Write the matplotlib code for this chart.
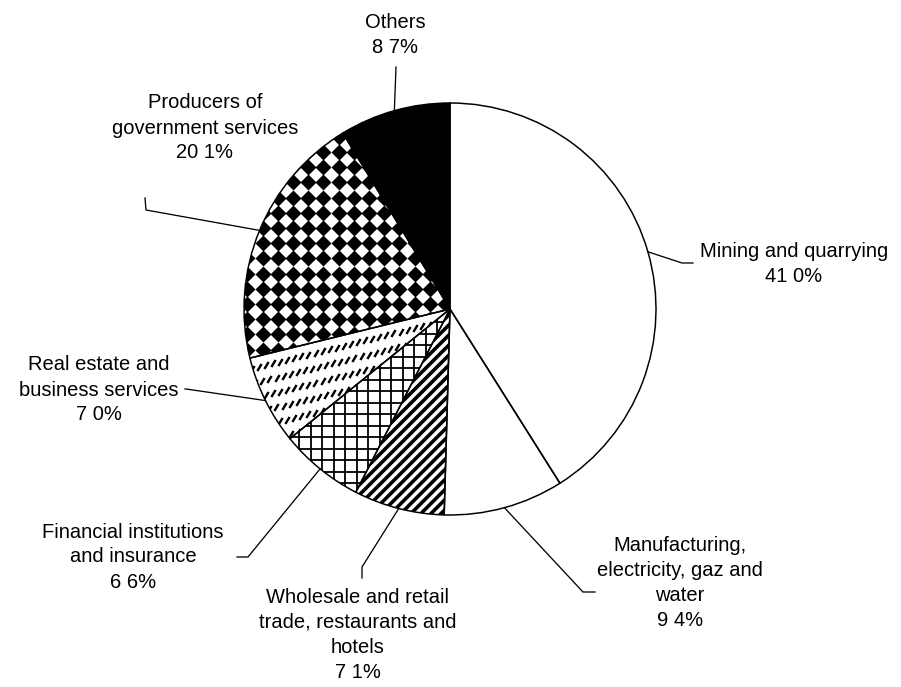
import numpy as np
import matplotlib
matplotlib.use("Agg")
import matplotlib.pyplot as plt
from matplotlib.collections import LineCollection

plt.rcParams['font.family'] = ['Liberation Sans', 'DejaVu Sans']

# Data
sectors = ["Mining and quarrying",
           "Manufacturing,\nelectricity, gaz and\nwater",
           "Wholesale and retail\ntrade, restaurants and\nhotels",
           "Financial institutions\nand insurance",
           "Real estate and\nbusiness services",
           "Producers of\ngovernment services",
           "Others"]
shares = [41.0, 9.4, 7.1, 6.6, 7.0, 20.1, 8.7]

# Layout (pixel coords, y down): label centre, leader elbow, leader end
label_xy = [(794, 264), (680, 583), (358, 635), (133, 557), (99, 390), (205, 128), (395, 35)]
elbow_xy = [(682, 263), (583, 592), (362, 567), (248, 557), (186, 389), (146, 210), (396, 67)]
end_xy = [(693, 263), (595, 592), (362, 578), (237, 557), (185, 389), (145, 198), (396, 67)]

W, H = 901, 687
CX, CY, R = 450, 309, 206
PX = 0.72  # points per pixel at dpi 100

fig = plt.figure(figsize=(W / 100, H / 100), dpi=100)
ax = fig.add_axes([0, 0, 1, 1])

wedges, _ = ax.pie(shares, center=(CX, CY), radius=R, startangle=-90,
                   counterclock=True, colors=["white"] * len(shares),
                   wedgeprops=dict(edgecolor="black", linewidth=1.5 * PX))
ax.set_xlim(0, W)
ax.set_ylim(H, 0)
ax.set_aspect("equal")
ax.axis("off")


def parallel_lines(wedge, angle, spacing, lw):
    # family of parallel lines clipped to a wedge
    a = np.deg2rad(angle)
    d = np.array([np.cos(a), np.sin(a)])
    n = np.array([-d[1], d[0]])
    offs = np.arange(-R * 1.5, R * 1.5, spacing)
    segs = [[(CX + o * n[0] - 2 * R * d[0], CY + o * n[1] - 2 * R * d[1]),
             (CX + o * n[0] + 2 * R * d[0], CY + o * n[1] + 2 * R * d[1])] for o in offs]
    lc = LineCollection(segs, colors="black", linewidths=lw * PX, zorder=2)
    ax.add_collection(lc)
    lc.set_clip_path(wedge)


def marker_grid(wedge, dx, dy, tilt, marker, ms, **kw):
    t = np.deg2rad(tilt)
    u, v = np.meshgrid(np.arange(-R * 1.5, R * 1.5, dx), np.arange(-R * 1.5, R * 1.5, dy))
    x = CX + u * np.cos(t) - v * np.sin(t)
    y = CY + u * np.sin(t) + v * np.cos(t)
    ln, = ax.plot(x.ravel(), y.ravel(), linestyle="none", marker=marker,
                  markersize=ms, zorder=2, **kw)
    ln.set_clip_path(wedge)


# Wholesale: thick diagonal stripes
parallel_lines(wedges[2], -45, 7.1, 3.6)
# Financial: square grid
parallel_lines(wedges[3], 0, 11.5, 1.8)
parallel_lines(wedges[3], 90, 11.5, 1.8)
# Real estate: dashed diagonal strokes
marker_grid(wedges[4], 7.3, 14.5, -14, [(-0.3, -0.5), (0.3, 0.5)], 7 * PX,
            markeredgecolor="black", markeredgewidth=2.4 * PX, markerfacecolor="none")
# Producers: checkerboard of diamonds
marker_grid(wedges[5], 15.2, 15.2, 0, [(0, 1), (1, 0), (0, -1), (-1, 0)], 16 * PX,
            color="black", markeredgewidth=0)

for i, w in enumerate(wedges):
    w.set_zorder(3)
    w.set_facecolor("black" if i == 6 else "none")

# Labels and leader lines
for i, w in enumerate(wedges):
    mid = np.deg2rad((w.theta1 + w.theta2) / 2)
    sx, sy = CX + R * np.cos(mid), CY + R * np.sin(mid)
    ex, ey = elbow_xy[i]
    fx, fy = end_xy[i]
    ax.plot([sx, ex, fx], [sy, ey, fy], color="black", lw=1.3 * PX, zorder=4)
    txt = sectors[i] + "\n" + f"{shares[i]:.1f}%".replace(".", " ")
    ax.text(label_xy[i][0], label_xy[i][1], txt, ha="center", va="center",
            fontsize=14.5, linespacing=1.4, multialignment="center")

fig.savefig("out.png", dpi=100, facecolor="white")
